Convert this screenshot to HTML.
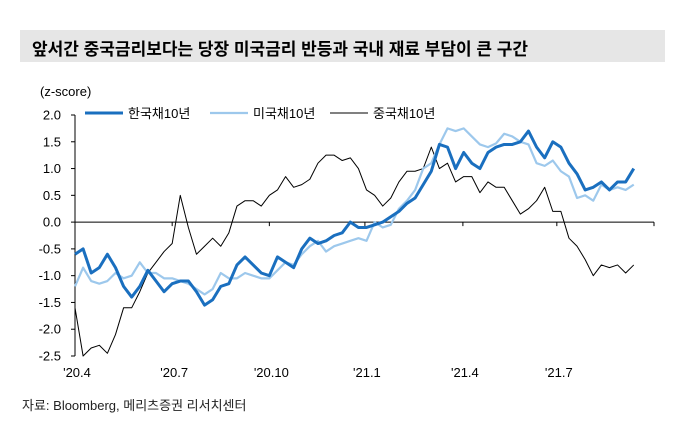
<!DOCTYPE html>
<html><head><meta charset="utf-8">
<style>
body{margin:0;background:#fff;width:689px;height:441px;overflow:hidden;font-family:"Liberation Sans","Noto Sans CJK KR",sans-serif;}
#title{position:absolute;left:20px;top:30px;width:645px;height:32px;background:#e6e6e6;}
#title span{position:absolute;left:12px;top:5px;font-size:17px;font-weight:bold;color:#000;}
#src{position:absolute;left:22px;top:395px;font-size:13px;color:#222;}
svg{position:absolute;left:0;top:0;}
</style></head><body>
<div id="title"><span>앞서간 중국금리보다는 당장 미국금리 반등과 국내 재료 부담이 큰 구간</span></div>
<div id="src">자료: Bloomberg, 메리츠증권 리서치센터</div>
<svg id="chart" width="689" height="441"></svg>
<script>
const yTicks=[2.0,1.5,1.0,0.5,0.0,-0.5,-1.0,-1.5,-2.0,-2.5];
const xTickLabels=["'20.4","'20.7","'20.10","'21.1","'21.4","'21.7"];
const xTickWeeks=[0,12,24,35.8,47.9,59.5,71.5];
const korea=[-0.6,-0.5,-0.95,-0.85,-0.6,-0.85,-1.2,-1.4,-1.2,-0.9,-1.1,-1.3,-1.15,-1.1,-1.1,-1.3,-1.55,-1.45,-1.2,-1.15,-0.8,-0.65,-0.8,-0.95,-1.0,-0.65,-0.75,-0.85,-0.5,-0.3,-0.4,-0.35,-0.25,-0.2,0.0,-0.1,-0.1,-0.05,0.0,0.1,0.2,0.35,0.45,0.7,0.95,1.45,1.4,1.0,1.3,1.1,1.0,1.3,1.4,1.45,1.45,1.5,1.7,1.4,1.2,1.5,1.4,1.1,0.9,0.6,0.65,0.75,0.6,0.75,0.75,1.0];
const us=[-1.2,-0.85,-1.1,-1.15,-1.1,-0.95,-1.05,-1.0,-0.75,-0.95,-0.95,-1.05,-1.05,-1.1,-1.15,-1.25,-1.35,-1.25,-0.95,-1.05,-1.05,-0.95,-1.0,-1.05,-1.05,-0.9,-0.75,-0.8,-0.6,-0.45,-0.35,-0.55,-0.45,-0.4,-0.35,-0.3,-0.35,0.0,-0.1,-0.05,0.25,0.4,0.6,1.0,1.1,1.45,1.75,1.7,1.75,1.6,1.45,1.4,1.47,1.65,1.6,1.5,1.45,1.1,1.05,1.15,0.95,0.85,0.45,0.5,0.4,0.7,0.6,0.65,0.6,0.7];
const china=[-1.6,-2.5,-2.35,-2.3,-2.45,-2.1,-1.6,-1.6,-1.3,-0.95,-0.75,-0.55,-0.4,0.5,-0.1,-0.6,-0.45,-0.3,-0.45,-0.2,0.3,0.4,0.4,0.3,0.5,0.6,0.85,0.65,0.7,0.8,1.1,1.25,1.25,1.15,1.2,1.0,0.6,0.5,0.3,0.45,0.75,0.95,0.95,1.0,1.4,1.0,1.1,0.75,0.85,0.85,0.55,0.75,0.65,0.65,0.4,0.15,0.25,0.4,0.65,0.2,0.2,-0.3,-0.45,-0.7,-1.0,-0.8,-0.85,-0.8,-0.95,-0.8];
const NS="http://www.w3.org/2000/svg";
const svg=document.getElementById('chart');
const X0=75,X1=654,Y0=115,Y1=356;
const xScale=w=>X0+(w/71.5)*(X1-X0);
const yScale=v=>Y0+(2.0-v)/4.5*(Y1-Y0);
function mk(tag,attrs){const e=document.createElementNS(NS,tag);for(const k in attrs)e.setAttribute(k,attrs[k]);svg.appendChild(e);return e;}
let a=mk('line',{x1:X0,y1:Y0,x2:X0,y2:Y1,stroke:'#000','stroke-width':1});


yTicks.forEach(v=>{const y=yScale(v);
 const t=mk('line',{x1:X0-4,y1:y,x2:X0,y2:y,stroke:'#000'});
 
 
 const l=mk('text',{x:X0-14,y:y+4.5,'text-anchor':'end','font-size':13,fill:'#000'});
 l.textContent=v.toFixed(1);
 
 
});
const z=yScale(0);
const zl=mk('line',{x1:X0,y1:z,x2:X1,y2:z,stroke:'#000','stroke-width':1});


xTickWeeks.forEach((w,i)=>{const x=xScale(w);
 const t=mk('line',{x1:x,y1:z,x2:x,y2:z+4,stroke:'#000'});
 
 
 if(i<xTickLabels.length){const l=mk('text',{x:x+2,y:377,'text-anchor':'middle','font-size':13,fill:'#000'});
 l.textContent=xTickLabels[i];
 
 }
});
const yl=mk('text',{x:40,y:96,'font-size':13,fill:'#000'});
yl.textContent='(z-score)';


function series(arr,color,w,name){const pts=arr.map((v,i)=>xScale(i)+','+yScale(v)).join(' ');
 const p=mk('polyline',{points:pts,fill:'none',stroke:color,'stroke-width':w,'stroke-linejoin':'round'});
 
 }
series(china,'#000',1,'series-china-10y');
series(us,'#9dc8ec',2.2,'series-us-10y');
series(korea,'#1a6fbf',3,'series-korea-10y');
const leg=[['#1a6fbf',3,'한국채10년',85],['#9dc8ec',2.2,'미국채10년',210],['#000',1,'중국채10년',330]];
leg.forEach(([c,w,t,x])=>{
 const l=mk('line',{x1:x,y1:113,x2:x+38,y2:113,stroke:c,'stroke-width':w});
 
 
 const tx=mk('text',{x:x+43,y:118,'font-size':13,fill:'#000'});
 tx.textContent=t;
 
 
});
</script>
</body></html>
